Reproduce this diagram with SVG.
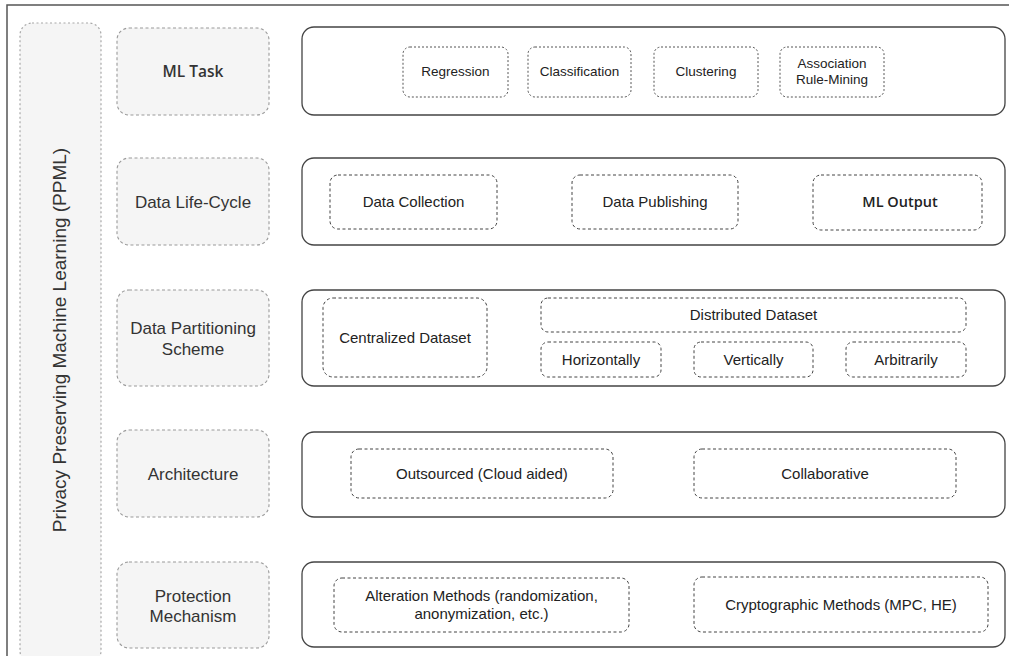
<svg xmlns="http://www.w3.org/2000/svg" width="1009" height="656" viewBox="0 0 1009 656">
  <style>
    .frame { fill: #ffffff; stroke: #555555; stroke-width: 1.5; }
    .side { fill: #f5f5f5; stroke: #a8a8a8; stroke-width: 1.2; stroke-dasharray: 2 2.5; }
    .label { fill: #f5f5f5; stroke: #9a9a9a; stroke-width: 1.1; stroke-dasharray: 3 2.5; }
    .row { fill: #ffffff; stroke: #444444; stroke-width: 1.3; }
    .item { fill: #ffffff; stroke: #444444; stroke-width: 1; stroke-dasharray: 3 2.5; }
    .dot { fill: #ffffff; stroke: #555555; stroke-width: 1; stroke-dasharray: 2 2; }
    text { font-family: "Liberation Sans", Arial, Helvetica, sans-serif; fill: #333333; text-anchor: middle; }
    .lt { font-size: 17px; }
    .it { font-size: 15px; fill: #222222; }
    .st { font-size: 13.5px; fill: #222222; }
    .hum { font-family: "Open Sans", "Noto Sans", sans-serif; font-weight: 600; }
  </style>

  <!-- outer frame -->
  <rect class="frame" x="7" y="5" width="1010" height="660"/>

  <!-- vertical title -->
  <g id="ppml">
    <rect class="side" x="20" y="23" width="81" height="640" rx="12"/>
    <text x="66" y="340" transform="rotate(-90 66 340)" style="font-size:19px">Privacy Preserving Machine Learning (PPML)</text>
  </g>

  <!-- category labels -->
  <g id="label-ml-task">
    <rect class="label" x="117" y="28" width="152" height="87" rx="12"/>
    <text class="hum" x="193" y="77" style="font-size:15.5px">ML Task</text>
  </g>
  <g id="label-lifecycle">
    <rect class="label" x="117" y="158" width="152" height="87" rx="12"/>
    <text class="lt" x="193" y="208">Data Life-Cycle</text>
  </g>
  <g id="label-partitioning">
    <rect class="label" x="117" y="290" width="152" height="96" rx="12"/>
    <text class="lt" x="193" y="334">Data Partitioning</text>
    <text class="lt" x="193" y="355">Scheme</text>
  </g>
  <g id="label-architecture">
    <rect class="label" x="117" y="430" width="152" height="87" rx="12"/>
    <text class="lt" x="193" y="480">Architecture</text>
  </g>
  <g id="label-protection">
    <rect class="label" x="117" y="562" width="152" height="86" rx="12"/>
    <text class="lt" x="193" y="602">Protection</text>
    <text class="lt" x="193" y="622">Mechanism</text>
  </g>

  <!-- row: ML task -->
  <g id="row-ml-task">
    <rect class="row" x="302" y="27" width="703" height="88" rx="12"/>
    <rect class="dot" x="403" y="47" width="105" height="50" rx="7"/>
    <text class="st" x="455.5" y="76">Regression</text>
    <rect class="dot" x="528" y="47" width="103" height="50" rx="7"/>
    <text class="st" x="579.5" y="76">Classification</text>
    <rect class="dot" x="654" y="47" width="104" height="50" rx="7"/>
    <text class="st" x="706" y="76">Clustering</text>
    <rect class="dot" x="780" y="47" width="104" height="50" rx="7"/>
    <text class="st" x="832" y="68">Association</text>
    <text class="st" x="832" y="84">Rule-Mining</text>
  </g>

  <!-- row: data life-cycle -->
  <g id="row-lifecycle">
    <rect class="row" x="302" y="158" width="703" height="87" rx="12"/>
    <rect class="item" x="330" y="175" width="167" height="54" rx="8"/>
    <text class="it" x="413.5" y="207">Data Collection</text>
    <rect class="item" x="572" y="175" width="166" height="54" rx="8"/>
    <text class="it" x="655" y="207">Data Publishing</text>
    <rect class="item" x="813" y="175" width="169" height="55" rx="8"/>
    <text class="it hum" x="900" y="207" style="font-size:14.5px">ML Output</text>
  </g>

  <!-- row: data partitioning -->
  <g id="row-partitioning">
    <rect class="row" x="302" y="290" width="703" height="96" rx="12"/>
    <rect class="item" x="323" y="298" width="164" height="79" rx="10"/>
    <text class="it" x="405" y="343">Centralized Dataset</text>
    <rect class="item" x="541" y="298" width="425" height="34" rx="7"/>
    <text class="it" x="753.5" y="320">Distributed Dataset</text>
    <rect class="item" x="541" y="342" width="120" height="35" rx="7"/>
    <text class="it" x="601" y="365">Horizontally</text>
    <rect class="item" x="694" y="342" width="119" height="35" rx="7"/>
    <text class="it" x="753.5" y="365">Vertically</text>
    <rect class="item" x="846" y="342" width="120" height="35" rx="7"/>
    <text class="it" x="906" y="365">Arbitrarily</text>
  </g>

  <!-- row: architecture -->
  <g id="row-architecture">
    <rect class="row" x="302" y="432" width="703" height="85" rx="12"/>
    <rect class="item" x="351" y="449" width="262" height="49" rx="8"/>
    <text class="it" x="482" y="479">Outsourced (Cloud aided)</text>
    <rect class="item" x="694" y="449" width="262" height="49" rx="8"/>
    <text class="it" x="825" y="479">Collaborative</text>
  </g>

  <!-- row: protection mechanism -->
  <g id="row-protection">
    <rect class="row" x="302" y="562" width="703" height="85" rx="12"/>
    <rect class="item" x="334" y="578" width="295" height="54" rx="8"/>
    <text class="it" x="481.5" y="601">Alteration Methods (randomization,</text>
    <text class="it" x="481.5" y="619">anonymization, etc.)</text>
    <rect class="item" x="694" y="577" width="294" height="55" rx="8"/>
    <text class="it" x="841" y="610">Cryptographic Methods (MPC, HE)</text>
  </g>

  <!-- connectors: none drawn in this layout -->
  <g id="connectors"/>
</svg>
